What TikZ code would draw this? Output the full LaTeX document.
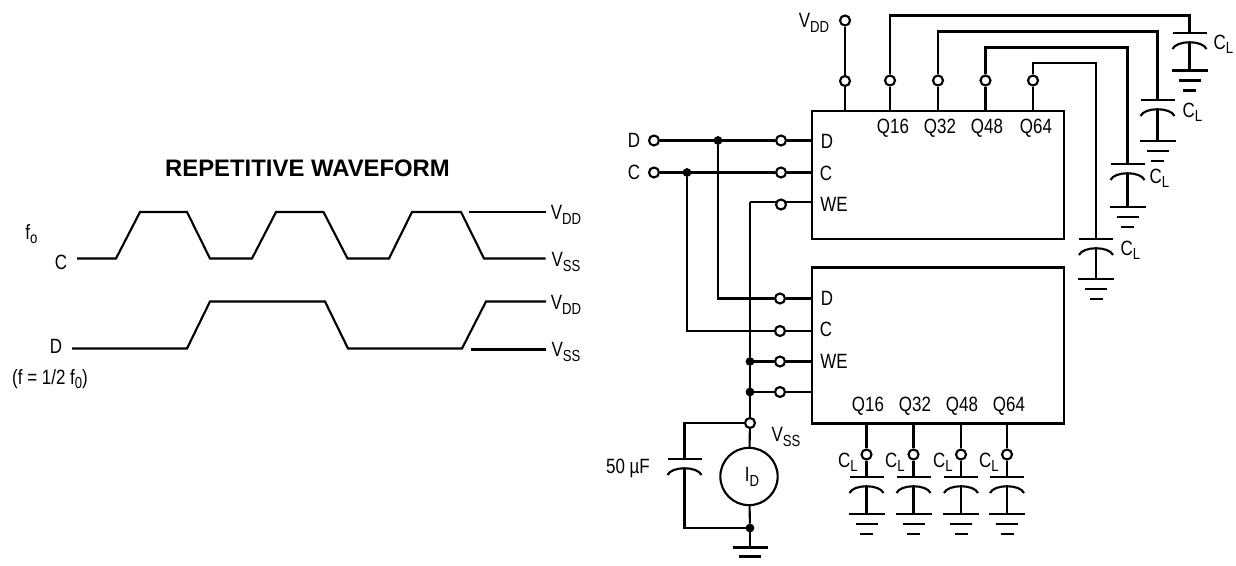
\documentclass[tikz,border=0pt]{standalone}
\usepackage{fontspec}
\setmainfont[FakeStretch=0.82]{Liberation Sans}
\newfontfamily\titlefont{Liberation Sans}
\usetikzlibrary{arrows.meta,positioning,calc}
\newcommand{\lowtxt}[1]{\raisebox{-0.4ex}{\fontsize{12}{12}\selectfont #1}}
\tikzset{
  % wires
  wire/.style={line width=1.6pt, line join=miter},
  % text labels
  lab/.style={inner sep=0pt, align=center, font=\fontsize{15.5}{18}\selectfont},
  % open terminal
  term/.style={draw, circle, line width=1.6pt, fill=white, inner sep=0pt, minimum size=7.5pt},
  % solder dot
  junc/.style={draw, circle, fill=black, inner sep=0pt, minimum size=6pt, line width=0.5pt},
  % chip outline
  chip/.style={draw, line width=1.6pt, inner sep=0pt, anchor=north west},
  % load capacitor without and with ground
  capbody/.pic={
    \draw[wire] (-17,0) -- (17,0);
    \draw[wire] (-17,16) .. controls (-13,7) and (13,7) .. (17,16);
  },
  capgnd/.pic={
    \draw[wire] (-17,0) -- (17,0);
    \draw[wire] (-17,16) .. controls (-13,7) and (13,7) .. (17,16);
    \draw[wire] (0,9) -- (0,#1);
    \draw[wire] (-18,#1) -- (18,#1);
    \draw[wire] (-11,#1+10) -- (11,#1+10);
    \draw[wire] (-6.5,#1+20) -- (6.5,#1+20);
  },
}
\begin{document}
\begin{tikzpicture}[x=0.75pt,y=-0.75pt]
    \useasboundingbox (0,0) rectangle (1236,566);

    % Repetitive waveform
    \node[lab, font=\titlefont\fontsize{17.9}{20}\selectfont\bfseries] (title) at (307.5,168) {REPETITIVE WAVEFORM};
    \coordinate (cstart) at (77,258.5);
    \coordinate (cend) at (545.5,258.5);
    \coordinate (dstart) at (72,348.5);
    \coordinate (dend) at (546,301.5);
    \coordinate (vddL) at (468.5,212);
    \coordinate (vddR) at (545.5,212);
    \coordinate (vssL) at (471,349.5);
    \coordinate (vssR) at (546,349.5);
    \draw[wire] (cstart) -- (116,258.5) -- (140,212) -- (187,212) -- (210,258.5) -- (252,258.5) -- (276,212) -- (323.5,212)
        -- (347.5,258.5) -- (389,258.5) -- (412,212) -- (461,212) -- (484,258.5) -- (cend);
    \draw[wire] (dstart) -- (187,348.5) -- (210,301.5) -- (325,301.5) -- (348,348.5) -- (462,348.5) -- (486,301.5) -- (dend);
    \draw[wire] (vddL) -- (vddR);
    \draw[wire] (vssL) -- (vssR);
    \node[lab] (f0lab) at (31.5,234) {f\lowtxt{o}};
    \node[lab] (clab) at (61,262.5) {C};
    \node[lab] (dlab) at (56,346.5) {D};
    \node[lab] (flab) at (50,379) {(f = 1/2 f\lowtxt{0})};
    \node[lab] (vdd1) at (566,215) {V\lowtxt{DD}};
    \node[lab] (vss1) at (566,262) {V\lowtxt{SS}};
    \node[lab] (vdd2) at (566,305) {V\lowtxt{DD}};
    \node[lab] (vss2) at (566,352) {V\lowtxt{SS}};

    % Upper register
    \node[chip, minimum width=189pt, minimum height=96pt] (upper) at (811,110) {};
    \node[lab] at (827,141) (upperD) {D};
    \node[lab] at (826,173) (upperC) {C};
    \node[lab] at (834,204) (upperWE) {WE};
    \node[lab] (uq16) at (893,128) {Q16};
    \node[lab] (uq32) at (940,128) {Q32};
    \node[lab] (uq48) at (987,128) {Q48};
    \node[lab] (uq64) at (1036,128) {Q64};

    % Lower register
    \node[chip, minimum width=189pt, minimum height=117pt] (lower) at (811,266.5) {};
    \node[lab] (lowerD) at (827,298) {D};
    \node[lab] (lowerC) at (826,329) {C};
    \node[lab] (lowerWE) at (834,361) {WE};
    \node[lab] (lq16) at (868,406) {Q16};
    \node[lab] (lq32) at (915,406) {Q32};
    \node[lab] (lq48) at (962,406) {Q48};
    \node[lab] (lq64) at (1009,406) {Q64};

    % Supply pin of upper register
    \node[term] (vddtop) at (845,20.5) {};
    \node[term] (vddpin) at (845,81) {};
    \node[lab] (vddlab) at (814,23) {V\lowtxt{DD}};
    \draw[wire] (vddtop) -- (vddpin);
    \draw[wire] (vddpin) -- (vddpin |- upper.north);

    % Upper outputs and their loads
    \node[term] (p16) at (890,80.5) {};
    \node[term] (p32) at (938,80.5) {};
    \node[term] (p48) at (985.5,80.5) {};
    \node[term] (p64) at (1033,80.5) {};
    \foreach \pin in {p16,p32,p48,p64}
        \draw[wire] (\pin) -- (\pin |- upper.north);
    \coordinate (c16) at (1189.5,33);
    \coordinate (c32) at (1157.5,100);
    \coordinate (c48) at (1127.5,164);
    \coordinate (c64) at (1096,239);
    \draw[wire] (p16) |- (1189.5,15.5) -- (c16);
    \draw[wire] (p32) |- (1157.5,31.5) -- (c32);
    \draw[wire] (p48) |- (1127.5,47.5) -- (c48);
    \draw[wire] (p64) |- (1096,63) -- (c64);
    \pic at (c16) {capgnd=37.5};
    \pic at (c32) {capgnd=41};
    \pic at (c48) {capgnd=43};
    \pic at (c64) {capgnd=40};
    \node[lab] (cl16) at (1223.5,44) {C\lowtxt{L}};
    \node[lab] (cl32) at (1192.5,112) {C\lowtxt{L}};
    \node[lab] (cl48) at (1159.5,178) {C\lowtxt{L}};
    \node[lab] (cl64) at (1130.5,250) {C\lowtxt{L}};

    % Inputs
    \node[term] (dterm) at (654,140.5) {};
    \node[term] (cterm) at (654,172.5) {};
    \node[lab] (dname) at (634,140.5) {D};
    \node[lab] (cname) at (634,172.5) {C};
    \node[junc] (djunc) at (718,140.5) {};
    \node[junc] (cjunc) at (687,172.5) {};
    \node[term] (ud) at (781,140.5) {};
    \node[term] (uc) at (781,172.5) {};
    \coordinate (weturn) at (750,202);
    \draw[wire] (weturn) -- (weturn -| upper.west);
    \node[term] (uwe) at (781,204.5) {};
    \node[term] (ld) at (780,298.5) {};
    \node[term] (lc) at (780,331) {};
    \node[term] (lwe) at (780,361.5) {};
    \node[term] (lgnd) at (780,392) {};
    \node[junc] (wejunc) at (750,361.5) {};
    \node[junc] (gndjunc) at (750,392) {};
    \draw[wire] (dterm) -- (djunc);
    \draw[wire] (djunc) -- (ud);
    \draw[wire] (ud) -- (ud -| upper.west);
    \draw[wire] (cterm) -- (cjunc);
    \draw[wire] (cjunc) -- (uc);
    \draw[wire] (uc) -- (uc -| upper.west);
    \draw[wire] (djunc) |- (ld);
    \draw[wire] (ld) -- (ld -| lower.west);
    \draw[wire] (cjunc) |- (lc);
    \draw[wire] (lc) -- (lc -| lower.west);
    \draw[wire] (weturn) -- (wejunc);
    \draw[wire] (wejunc) -- (lwe);
    \draw[wire] (lwe) -- (lwe -| lower.west);
    \draw[wire] (wejunc) -- (gndjunc);
    \draw[wire] (gndjunc) -- (lgnd);
    \draw[wire] (lgnd) -- (lgnd -| lower.west);

    % Supply current measurement
    \node[term] (vssterm) at (750,423) {};
    \node[draw, circle, line width=1.6pt, inner sep=0pt, minimum size=43pt] (idmeter) at (749,476.5) {};
    \node[lab] (idlab) at (752,477) {I\lowtxt{D}};
    \node[lab] (vsslab) at (786,437) {V\lowtxt{SS}};
    \node[junc] (botjunc) at (750,528) {};
    \coordinate (capcorner) at (684.5,423);
    \coordinate (capplate) at (684.5,459);
    \coordinate (capback) at (684.5,468);
    \coordinate (capfoot) at (684.5,528);
    \coordinate (gndtop) at (750,547.5);
    \draw[wire] (gndjunc) -- (vssterm);
    \draw[wire] (vssterm) -- (idmeter);
    \draw[wire] (idmeter) -- (botjunc);
    \draw[wire] (vssterm) -- (capcorner) -- (capplate);
    \draw[wire] (capback) -- (capfoot) -- (botjunc);
    \pic at (capplate) {capbody};
    \node[lab] (ufarad) at (628,468) {50 µF};
    \draw[wire] (botjunc) -- (gndtop);
    \draw[wire] ($(gndtop)+(-17.5,0)$) -- ($(gndtop)+(17.5,0)$);
    \draw[wire] ($(gndtop)+(-11,9)$) -- ($(gndtop)+(11,9)$);

    % Lower outputs and their loads
    \node[term] (q16) at (866.5,454.5) {};
    \node[term] (q32) at (913.5,454.5) {};
    \node[term] (q48) at (961,454.5) {};
    \node[term] (q64) at (1007,454.5) {};
    \foreach \pin/\xpos in {q16/866.5,q32/913.5,q48/961,q64/1007} {
        \coordinate (\pin top) at (\xpos,477);
        \draw[wire] (\pin) -- (\pin |- lower.south);
        \draw[wire] (\pin) -- (\pin top);
        \pic at (\pin top) {capgnd=37};
    }
    \node[lab] (clq16) at (848,462) {C\lowtxt{L}};
    \node[lab] (clq32) at (895,462) {C\lowtxt{L}};
    \node[lab] (clq48) at (943,462) {C\lowtxt{L}};
    \node[lab] (clq64) at (989,462) {C\lowtxt{L}};
\end{tikzpicture}
\end{document}
